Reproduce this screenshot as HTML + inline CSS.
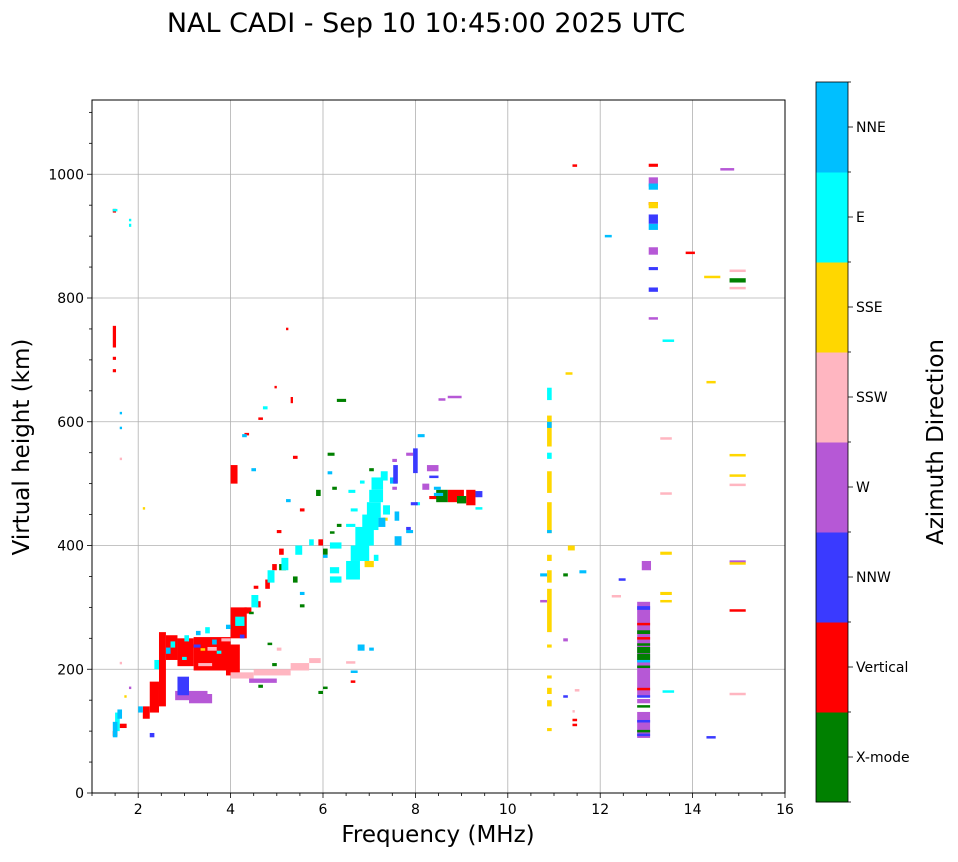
<!DOCTYPE html>
<html><head><meta charset="utf-8">
<style>
body{margin:0;background:#fff;width:958px;height:857px;overflow:hidden;font-family:"Liberation Sans","DejaVu Sans",sans-serif;}
svg text{font-family:"DejaVu Sans","Liberation Sans",sans-serif;}
</style></head>
<body>
<svg id="chart" width="958" height="857" viewBox="0 0 958 857" xmlns="http://www.w3.org/2000/svg">
<text x="426" y="32" font-size="27" text-anchor="middle">NAL CADI - Sep 10 10:45:00 2025 UTC</text>
<g id="grid"></g>
<g id="marks"></g>
<g id="axes"></g>
<text x="438" y="842" font-size="23" text-anchor="middle">Frequency (MHz)</text>
<text transform="translate(29,447) rotate(-90)" font-size="23" text-anchor="middle">Virtual height (km)</text>
<g id="cbar"></g>
<text transform="translate(943,442) rotate(-90)" font-size="23" text-anchor="middle">Azimuth Direction</text>
</svg>
<script>
// azimuth categories
const dirLabels = ["X-mode","Vertical","NNW","W","SSW","SSE","E","NNE"];
const dirColors = ["#008000","#ff0000","#3a3aff","#b658d6","#ffb6c1","#ffd700","#00ffff","#00bfff"];
const xTicks = [2,4,6,8,10,12,14,16];
const yTicks = [0,200,400,600,800,1000];
// echo blocks per direction: [freq start MHz, freq end MHz, height low km, height high km]
const xmodeEchoes = [[6.3,6.5,632,637],[6.1,6.25,545,550],[6.0,6.1,385,395],[5.85,5.95,480,490],[6.2,6.3,490,495],[5.35,5.45,340,350],[5.05,5.2,360,370],[4.9,5.0,205,210],[5.9,6.0,160,165],[8.45,8.7,470,490],[8.9,9.1,468,480],[6.3,6.4,430,435],[7.0,7.1,520,525],[12.8,13.08,98,102],[12.8,13.08,140,142],[12.8,13.08,257,263],[12.8,13.08,239,242],[12.8,13.08,226,236],[12.8,13.08,215,225],[12.8,13.08,203,206],[14.8,15.15,825,832],[11.2,11.3,350,355],[5.5,5.6,300,305],[4.6,4.7,170,175],[6.0,6.1,170,172],[6.15,6.25,420,423],[4.8,4.9,240,243],[4.4,4.5,290,293]];
const verticalEchoes = [[1.45,1.52,720,755],[1.45,1.52,680,685],[1.45,1.52,700,705],[1.45,1.52,938,944],[1.45,1.55,92,100],[1.6,1.75,105,112],[2.1,2.25,120,140],[2.25,2.45,130,180],[2.45,2.6,140,260],[2.6,2.85,215,255],[2.85,3.2,205,250],[3.2,4.0,198,252],[3.9,4.2,190,240],[4.0,4.35,250,300],[4.3,4.45,290,300],[4.55,4.65,300,310],[4.75,4.85,330,345],[4.9,5.0,360,370],[5.05,5.15,385,395],[4.0,4.15,500,530],[4.3,4.4,578,582],[4.6,4.7,603,607],[4.95,5.0,655,658],[5.2,5.25,748,752],[5.3,5.35,630,640],[5.35,5.45,540,545],[5.5,5.6,455,460],[5.9,6.0,400,410],[6.6,6.7,180,182],[8.3,8.5,475,480],[8.7,9.05,470,490],[9.1,9.3,465,490],[11.4,11.5,108,112],[11.4,11.5,117,120],[12.8,13.08,271,275],[12.8,13.08,249,252],[12.8,13.08,166,170],[13.05,13.25,1012,1017],[13.05,13.25,950,955],[13.85,14.05,872,875],[14.8,15.15,293,297],[11.4,11.5,1012,1016],[4.5,4.6,330,335],[5.0,5.1,420,425]];
const nnwEchoes = [[2.85,3.1,158,188],[2.25,2.35,90,97],[3.2,3.35,235,240],[4.2,4.3,250,256],[7.95,8.05,517,557],[7.8,7.9,425,430],[8.3,8.5,510,513],[7.9,8.05,465,470],[7.52,7.62,500,530],[12.8,13.08,296,302],[12.8,13.08,155,158],[12.8,13.08,115,118],[12.8,13.08,93,96],[13.05,13.25,810,817],[13.05,13.25,845,850],[13.05,13.25,920,935],[12.4,12.55,343,347],[11.2,11.3,155,158],[14.3,14.5,88,92],[9.3,9.45,478,488]];
const wEchoes = [[2.8,3.5,150,165],[3.1,3.6,145,160],[2.45,2.55,200,205],[4.4,5.0,178,185],[2.4,2.5,170,172],[1.8,1.85,170,172],[8.15,8.3,490,500],[8.25,8.5,520,530],[8.5,8.65,635,638],[8.7,9.0,638,642],[7.8,7.95,545,550],[7.5,7.6,535,540],[7.5,7.6,490,495],[12.8,13.08,89,131],[12.8,13.08,145,152],[12.8,13.08,155,309],[13.05,13.25,870,882],[13.05,13.25,765,769],[13.05,13.25,980,995],[12.9,13.1,360,375],[14.6,14.9,1006,1010],[11.2,11.3,245,250],[14.8,15.15,372,376],[10.7,10.85,310,312]];
const sswEchoes = [[4.0,4.5,185,195],[4.5,5.3,190,200],[5.3,5.7,198,210],[5.7,5.95,210,218],[3.5,3.7,230,236],[3.8,4.0,245,250],[3.3,3.6,205,210],[1.6,1.65,538,542],[1.6,1.65,208,212],[6.5,6.7,210,213],[12.25,12.45,316,320],[13.3,13.55,483,486],[13.3,13.55,572,575],[14.8,15.15,160,162],[14.8,15.15,497,500],[14.8,15.15,842,846],[14.8,15.15,815,818],[11.45,11.55,165,168],[11.4,11.45,132,134],[5.0,5.1,230,235]];
const sseEchoes = [[1.7,1.75,155,158],[2.1,2.15,460,462],[6.65,6.8,350,362],[6.9,7.1,365,375],[10.85,10.95,100,105],[10.85,10.95,140,150],[10.85,10.95,160,170],[10.85,10.95,185,190],[10.85,10.95,235,240],[10.85,10.95,260,330],[10.85,10.95,340,360],[10.85,10.95,375,385],[10.85,10.95,420,470],[10.85,10.95,485,520],[10.85,10.95,560,610],[11.3,11.45,392,400],[11.25,11.4,678,680],[13.3,13.55,385,390],[13.3,13.55,308,312],[13.3,13.55,320,325],[14.3,14.5,662,666],[14.25,14.6,832,836],[14.8,15.15,512,515],[14.8,15.15,545,548],[14.8,15.15,370,373],[13.05,13.25,945,955],[7.3,7.4,440,445],[3.35,3.45,230,234]];
const eEchoes = [[1.5,1.6,100,130],[1.8,1.85,915,920],[1.8,1.85,925,928],[2.35,2.45,200,215],[2.7,2.8,235,245],[3.0,3.1,245,255],[3.45,3.55,258,268],[4.1,4.3,270,285],[4.45,4.6,300,320],[4.8,4.95,340,360],[5.1,5.25,360,380],[5.4,5.55,385,400],[5.7,5.8,400,410],[6.15,6.4,340,350],[6.15,6.35,355,365],[6.15,6.4,395,405],[6.5,6.8,345,375],[6.6,7.0,375,400],[6.7,7.1,400,430],[6.85,7.2,425,450],[6.95,7.25,445,470],[7.0,7.3,470,490],[7.05,7.3,490,510],[7.3,7.45,450,465],[6.55,6.7,485,490],[6.8,6.9,500,505],[7.25,7.4,505,520],[7.1,7.2,375,385],[6.6,6.75,455,460],[6.5,6.7,430,435],[8.0,8.1,465,470],[9.3,9.45,458,462],[1.45,1.55,940,944],[10.85,10.95,635,655],[10.85,10.95,540,550],[13.35,13.6,730,733],[13.35,13.6,163,166],[4.7,4.8,620,625],[3.7,3.8,225,230],[2.95,3.05,215,220]];
const nneEchoes = [[1.45,1.55,90,115],[1.55,1.65,120,135],[1.6,1.65,590,592],[1.6,1.65,613,616],[2.0,2.1,130,140],[2.6,2.7,225,235],[3.25,3.35,255,262],[3.6,3.7,240,248],[3.9,4.0,265,272],[4.25,4.35,575,580],[4.45,4.55,520,525],[5.2,5.3,470,475],[5.5,5.6,320,325],[6.1,6.2,515,520],[6.0,6.1,380,385],[7.2,7.35,430,445],[7.55,7.7,400,415],[7.55,7.65,440,455],[7.45,7.6,500,510],[7.8,7.95,420,425],[8.05,8.2,575,580],[8.4,8.55,490,495],[8.4,8.6,480,485],[10.85,10.95,420,425],[10.85,10.95,590,600],[10.7,10.85,350,355],[11.55,11.7,355,360],[12.1,12.25,898,902],[12.8,13.08,212,215],[13.05,13.25,910,920],[13.05,13.25,975,985],[7.0,7.1,230,235],[6.6,6.75,195,198],[6.75,6.9,230,240]];
const echoSets = [xmodeEchoes,verticalEchoes,nnwEchoes,wEchoes,sswEchoes,sseEchoes,eEchoes,nneEchoes];
const drawOrder = [3,1,4,5,0,6,7,2];

const L=92,R=785,T=100,B=793;
const xMin=1,xMax=16,yMin=0,yMax=1120;
const X=v=>L+(v-xMin)/(xMax-xMin)*(R-L);
const Y=v=>B-(v-yMin)/(yMax-yMin)*(B-T);
const NS="http://www.w3.org/2000/svg";
function mk(tag,attrs,parent){const e=document.createElementNS(NS,tag);for(const k in attrs)e.setAttribute(k,attrs[k]);parent.appendChild(e);return e;}
const grid=document.getElementById('grid'),marks=document.getElementById('marks'),axes=document.getElementById('axes'),cbar=document.getElementById('cbar');
xTicks.forEach(t=>{if(t<xMax){const g=mk('line',{x1:X(t),x2:X(t),y1:T,y2:B,stroke:'#b0b0b0','stroke-width':0.8},grid);

}});
yTicks.forEach(t=>{if(t>yMin){const g=mk('line',{x1:L,x2:R,y1:Y(t),y2:Y(t),stroke:'#b0b0b0','stroke-width':0.8},grid);

}});
drawOrder.forEach(ci=>{
  echoSets[ci].forEach(b=>{
    const r=mk('rect',{x:X(b[0]),y:Y(b[3]),width:Math.max(1.5,X(b[1])-X(b[0])),height:Math.max(2.5,Y(b[2])-Y(b[3])),fill:dirColors[ci]},marks);
    
    
  });
});
mk('rect',{x:L,y:T,width:R-L,height:B-T,fill:'none',stroke:'#000','stroke-width':1},axes);
for(let v=1;v<=16;v+=0.5){mk('line',{x1:X(v),x2:X(v),y1:B,y2:B+(xTicks.includes(v)?5:3),stroke:'#000','stroke-width':0.8},axes);}
xTicks.forEach(t=>{const tx=mk('text',{x:X(t),y:B+21,'font-size':14,'text-anchor':'middle'},axes);tx.textContent=t;

});
for(let v=0;v<=1100;v+=50){mk('line',{x1:L,x2:L-(yTicks.includes(v)?5:3),y1:Y(v),y2:Y(v),stroke:'#000','stroke-width':0.8},axes);}
yTicks.forEach(t=>{const tx=mk('text',{x:L-8,y:Y(t)+5,'font-size':14,'text-anchor':'end'},axes);tx.textContent=t;

});
const cbT=82,cbB=802,cbL=816,cbW=32,seg=(cbB-cbT)/dirLabels.length;
dirLabels.forEach((d,i)=>{
  const y=cbB-(i+1)*seg;
  const r=mk('rect',{x:cbL,y:y,width:cbW,height:seg+0.5,fill:dirColors[i]},cbar);
  
  
  mk('line',{x1:cbL+cbW,x2:cbL+cbW+5,y1:y+seg/2,y2:y+seg/2,stroke:'#000','stroke-width':0.8},cbar);
  const tx=mk('text',{x:cbL+cbW+8,y:y+seg/2+5,'font-size':14},cbar);tx.textContent=d;
  
  
});
for(let i=0;i<=dirLabels.length;i++){const y=cbB-i*seg;mk('line',{x1:cbL+cbW,x2:cbL+cbW+3,y1:y,y2:y,stroke:'#000','stroke-width':0.8},cbar);}
mk('rect',{x:cbL,y:cbT,width:cbW,height:cbB-cbT,fill:'none',stroke:'#000','stroke-width':0.8},cbar);
</script>
</body></html>
